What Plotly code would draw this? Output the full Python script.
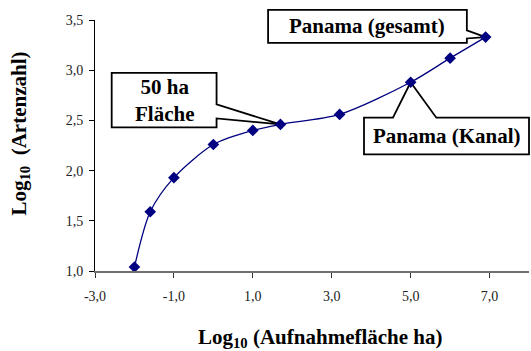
import plotly.graph_objects as go

# Species-area relationship (log-log)
log_area = [-2.0, -1.6, -1.0, 0.0, 1.0, 1.7, 3.2, 5.0, 6.0, 6.9]
log_species = [1.04, 1.59, 1.93, 2.26, 2.40, 2.46, 2.56, 2.88, 3.12, 3.33]

x_ticks = [-3, -1, 1, 3, 5, 7]
x_tick_text = ["-3,0", "-1,0", "1,0", "3,0", "5,0", "7,0"]
y_ticks = [1.0, 1.5, 2.0, 2.5, 3.0, 3.5]
y_tick_text = ["1,0", "1,5", "2,0", "2,5", "3,0", "3,5"]

X_RANGE = [-3.0, 8.0]
Y_RANGE = [1.0, 3.5]

SERIF = "Liberation Serif, Times New Roman, serif"
NAVY = "#000080"


def px(x):
    return (x - X_RANGE[0]) / (X_RANGE[1] - X_RANGE[0])


def py(y):
    return (y - Y_RANGE[0]) / (Y_RANGE[1] - Y_RANGE[0])


def callout_side(left, right, top, bottom, j_top, j_bot, tip):
    """Rectangle with a wedge leaving its right edge towards a data point."""
    tx, ty = tip
    pts = [(left, top), (right, top), (right, j_top), (tx, ty),
           (right, j_bot), (right, bottom), (left, bottom)]
    return "M " + " L ".join(f"{px(a):.5f},{py(b):.5f}" for a, b in pts) + " Z"


def callout_top(left, right, top, bottom, w_left, w_right, tip):
    """Rectangle with a wedge leaving its top edge towards a data point."""
    tx, ty = tip
    pts = [(left, top), (w_left, top), (tx, ty), (w_right, top),
           (right, top), (right, bottom), (left, bottom)]
    return "M " + " L ".join(f"{px(a):.5f},{py(b):.5f}" for a, b in pts) + " Z"


fig = go.Figure()

fig.add_trace(go.Scatter(
    x=log_area, y=log_species,
    mode="lines+markers",
    line=dict(color=NAVY, width=1.3, shape="spline", smoothing=0.8),
    marker=dict(symbol="diamond", size=9, color=NAVY),
    cliponaxis=False,
    showlegend=False,
))

i_50ha = 5
i_kanal = 7
i_gesamt = 9

callouts = [
    callout_side(-2.577, 0.081, 2.973, 2.430, 2.659, 2.520,
                 (log_area[i_50ha], log_species[i_50ha])),
    callout_side(1.387, 6.425, 3.601, 3.273, 3.396, 3.316,
                 (log_area[i_gesamt], log_species[i_gesamt])),
    callout_top(3.818, 8.0, 2.527, 2.161, 4.552, 5.651,
                (log_area[i_kanal], log_species[i_kanal])),
]

shapes = [dict(type="path", path=p, xref="paper", yref="paper",
               fillcolor="white", line=dict(color="black", width=1.8),
               layer="below") for p in callouts]

label_font = dict(family=SERIF, size=21, color="black")
annotations = [
    dict(text="<b>50 ha<br>Fläche</b>", x=px(-1.248), y=py(2.70),
         xref="paper", yref="paper", showarrow=False, font=label_font,
         xanchor="center", yanchor="middle"),
    dict(text="<b>Panama (gesamt)</b>", x=px(3.906), y=py(3.437),
         xref="paper", yref="paper", showarrow=False, font=label_font,
         xanchor="center", yanchor="middle"),
    dict(text="<b>Panama (Kanal)</b>", x=px(5.909), y=py(2.344),
         xref="paper", yref="paper", showarrow=False, font=label_font,
         xanchor="center", yanchor="middle"),
    dict(text="<b>Log<sub>10</sub> (Aufnahmefläche ha)</b>",
         x=0.52, y=-0.268, xref="paper", yref="paper", showarrow=False,
         font=label_font, xanchor="center", yanchor="middle"),
    dict(text="<b>Log<sub>10</sub>  (Artenzahl)</b>", textangle=-90,
         x=-0.1726, y=0.548, xref="paper", yref="paper", showarrow=False,
         font=label_font, xanchor="center", yanchor="middle"),
]

fig.update_layout(
    width=531, height=351,
    margin=dict(l=95, r=1.5, t=19.5, b=80.3),
    paper_bgcolor="white", plot_bgcolor="white",
    shapes=shapes,
    annotations=annotations,
    xaxis=dict(
        range=X_RANGE, tickvals=x_ticks, ticktext=x_tick_text,
        showgrid=False, zeroline=False,
        showline=True, linecolor="#707070", linewidth=1.5,
        ticks="outside", ticklen=5, tickcolor="#333", tickwidth=1,
        ticklabelstandoff=6,
        tickfont=dict(family=SERIF, size=14, color="#222"),
    ),
    yaxis=dict(
        range=Y_RANGE, tickvals=y_ticks, ticktext=y_tick_text,
        showgrid=False, zeroline=False,
        showline=True, linecolor="black", linewidth=1,
        ticks="outside", ticklen=5, tickcolor="black", tickwidth=1,
        ticklabelstandoff=3,
        tickfont=dict(family=SERIF, size=14, color="#222"),
    ),
)

fig.write_html("out.html")
